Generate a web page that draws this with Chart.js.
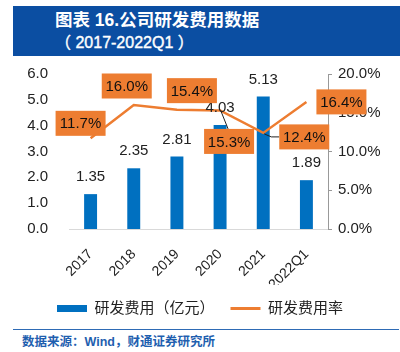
<!DOCTYPE html>
<html><head><meta charset="utf-8">
<script src="https://cdn.jsdelivr.net/npm/chart.js@4/dist/chart.umd.min.js"></script>
<style>
html,body{margin:0;padding:0;background:#fff;}
body{width:400px;height:352px;overflow:hidden;position:relative;font-family:'Liberation Sans','Noto Sans CJK SC',sans-serif;}
#title{position:absolute;left:13px;top:6px;width:387px;height:50px;background:#0B4EA2;color:#fff;font-weight:bold;font-size:17.5px;line-height:22px;box-sizing:border-box;padding:3px 0 0 42px;}
#title .l2{font-size:16px;font-weight:normal;-webkit-text-stroke:0.4px #fff;}
#rule{position:absolute;left:13px;top:329px;width:386px;height:0;border-top:1.5px solid #2E6BB5;}
#src{position:absolute;left:22px;top:334px;font-size:12.5px;font-weight:bold;color:#1F5FAF;line-height:16px;}
#wrap{position:absolute;left:0;top:0;width:400px;height:352px;}
</style></head>
<body>
<div id="title">图表 16.公司研发费用数据<br><span class="l2">（ 2017-2022Q1 ）</span></div>
<div id="rule"></div>
<div id="src">数据来源：Wind，财通证券研究所</div>
<div id="wrap"><canvas id="c" width="400" height="352"></canvas></div>
<script>
const categories = ['2017','2018','2019','2020','2021','2022Q1'];
const rdExpense = [1.35, 2.35, 2.81, 4.03, 5.13, 1.89];
const rdRate = [11.7, 16.0, 15.4, 15.3, 12.4, 16.4];
const leftTicks = [0,1,2,3,4,5,6];
const rightTicks = [0,5,10,15,20];
const seriesNames = ['研发费用（亿元）','研发费用率'];

const BLUE = '#0070C0', ORANGE = '#ED7D31';
const FONT = "'Liberation Sans','Noto Sans CJK SC',sans-serif";
// label box offsets relative to line points (style only)
const rateLabelOffsets = [[-10,-15],[-7,-19],[15,-19],[9,31],[41,4],[35,0]];
const rateLeaders = [null,null,null,'top','left',null];

const labelPlugin = {
  id:'valueLabels',
  afterDatasetsDraw(chart){
    const ctx = chart.ctx;
    const bars = chart.getDatasetMeta(0).data;
    const pts = chart.getDatasetMeta(1).data;
    ctx.save();
    ctx.font = '15px ' + FONT;
    ctx.textAlign = 'center';
    ctx.textBaseline = 'middle';
    ctx.fillStyle = '#222';
    bars.forEach((el,i)=>{ ctx.fillText(rdExpense[i].toFixed(2), el.x, el.y - 17); });
    pts.forEach((pt,i)=>{
      const cx = pt.x + rateLabelOffsets[i][0], cy = pt.y + rateLabelOffsets[i][1];
      ctx.strokeStyle = '#222'; ctx.lineWidth = 1;
      if (rateLeaders[i] === 'top') {
        ctx.beginPath(); ctx.moveTo(pt.x + 1, pt.y + 1); ctx.lineTo(cx - 1, cy - 12.5); ctx.stroke();
      } else if (rateLeaders[i] === 'left') {
        ctx.beginPath(); ctx.moveTo(pt.x + 1, pt.y + 1); ctx.lineTo(cx - 33, cy); ctx.lineTo(cx - 25, cy); ctx.stroke();
      }
      ctx.fillStyle = ORANGE;
      ctx.fillRect(cx - 25, cy - 12.5, 50, 25);
      ctx.fillStyle = '#111';
      ctx.fillText(rdRate[i].toFixed(1) + '%', cx, cy + 1);
    });
    ctx.restore();
  }
};

new Chart(document.getElementById('c'), {
  data: {
    labels: categories,
    datasets: [
      { type:'bar', label: seriesNames[0], data: rdExpense, backgroundColor: BLUE, yAxisID:'y',
        barPercentage:0.3, categoryPercentage:1, order:2 },
      { type:'line', label: seriesNames[1], data: rdRate, borderColor: ORANGE, borderWidth:2.5,
        pointRadius:0, tension:0, yAxisID:'y1', order:1 }
    ]
  },
  options: {
    responsive:false, animation:false,
    layout:{ padding:{ left:0, right:0, top:74, bottom:26 } },
    plugins:{
      tooltip:{enabled:false},
      legend:{
        position:'bottom',
        labels:{
          font:{size:15, family:FONT}, color:'#222', padding:16,
          usePointStyle:true, pointStyleWidth:30, boxHeight:7,
          generateLabels(chart){
            return [
              {text:seriesNames[0], fillStyle:BLUE, strokeStyle:BLUE, lineWidth:0, pointStyle:'rect', datasetIndex:0, fontColor:'#222'},
              {text:seriesNames[1], fillStyle:ORANGE, strokeStyle:ORANGE, lineWidth:3, pointStyle:'line', datasetIndex:1, fontColor:'#222'}
            ];
          }
        }
      }
    },
    scales:{
      x:{
        grid:{display:false},
        border:{display:true, color:'#d9d9d9'},
        ticks:{ font:{size:14, family:FONT}, color:'#222', minRotation:45, maxRotation:45, padding:9 },
        afterFit(s){ s.height = 56; }
      },
      y:{
        position:'left', min:0, max:6,
        afterBuildTicks(s){ s.ticks = leftTicks.map(v=>({value:v})); },
        grid:{display:false}, border:{display:false},
        ticks:{ font:{size:15, family:FONT}, color:'#222', padding:13, callback:v=>Number(v).toFixed(1) },
        afterFit(s){ s.width = 69; }
      },
      y1:{
        position:'right', min:0, max:20,
        afterBuildTicks(s){ s.ticks = rightTicks.map(v=>({value:v})); },
        grid:{display:true, drawOnChartArea:false, drawTicks:true, tickLength:4, color:'#999'},
        border:{display:true, color:'#999'},
        ticks:{ font:{size:15, family:FONT}, color:'#222', padding:6, callback:v=>Number(v).toFixed(1)+'%' },
        afterFit(s){ s.width = 72; }
      }
    }
  },
  plugins:[labelPlugin]
});
</script>
</body></html>
